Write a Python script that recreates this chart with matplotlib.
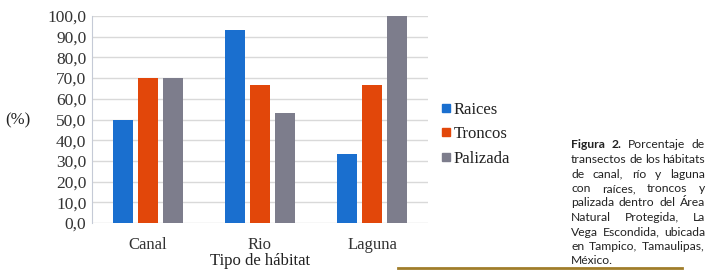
import numpy as np
import matplotlib
matplotlib.use("Agg")
from matplotlib import pyplot as plt
from matplotlib.lines import Line2D
from matplotlib.font_manager import FontProperties

# datos
habitats = ["Canal", "Rio", "Laguna"]
raices = [50.0, 93.3, 33.3]
troncos = [70.0, 66.7, 66.7]
palizada = [70.0, 53.3, 100.0]
series = ["Raices", "Troncos", "Palizada"]
yticks = np.arange(0, 101, 10)

colores = ["#1a6fcf", "#e2470a", "#7d7d8c"]
plt.rcParams["font.family"] = "serif"
plt.rcParams["font.serif"] = ["Liberation Serif", "DejaVu Serif"]
serif12 = FontProperties(family="Liberation Serif", size=12)

fig = plt.figure(figsize=(7.14, 2.78), dpi=100)
W, H = 714, 278
ax = fig.add_axes([92 / W, 1 - 223 / H, 336 / W, 207 / H])

x = np.arange(len(habitats))
ancho = 0.18
paso = 0.223
for k, vals in enumerate([raices, troncos, palizada]):
    ax.bar(x + (k - 1) * paso, vals, ancho, color=colores[k], label=series[k], zorder=3)

ax.set_xlim(-0.5, 2.5)
ax.set_ylim(0, 100)
ax.set_yticks(yticks)
ax.set_yticklabels([f"{v:.1f}".replace(".", ",") for v in yticks],
                   fontproperties=FontProperties(family="Liberation Serif", size=12.5))
ax.set_xticks(x)
ax.set_xticklabels(habitats, fontproperties=serif12)
ax.tick_params(axis="both", length=0, colors="#333333")
ax.tick_params(axis="y", pad=4)
ax.tick_params(axis="x", pad=10)
ax.grid(axis="y", color="#d9d9d9", linewidth=1, zorder=0)
for s in ["top", "right", "bottom"]:
    ax.spines[s].set_visible(False)
ax.spines["left"].set_color("#c5cad6")

fig.text(18 / W, 1 - 120 / H, "(%)", fontproperties=serif12,
         ha="center", va="center", color="#222222")
fig.text(260 / W, 1 - 261 / H, "Tipo de hábitat", fontproperties=serif12,
         ha="center", va="center", color="#222222")

# leyenda
handles = [Line2D([], [], linestyle="none", marker="s", markersize=6,
                  markerfacecolor=c, markeredgecolor=c) for c in colores]
leg = fig.legend(handles, series, loc="upper left", bbox_to_anchor=(436 / W, 1 - 97 / H),
                 frameon=False, prop=serif12, handlelength=0.6, handletextpad=0.15,
                 labelspacing=0.5, borderaxespad=0, borderpad=0.3)
for t in leg.get_texts():
    t.set_color("#222222")
    t.set_fontproperties(FontProperties(family="Liberation Serif", size=12))

# pie de figura, justificado
lineas = [
    [("Figura", "bold"), ("2.", "bold"), ("Porcentaje", "normal"), ("de", "normal")],
    "transectos de los hábitats",
    "de canal, río y laguna",
    "con raíces, troncos y",
    "palizada dentro del Área",
    "Natural Protegida, La",
    "Vega Escondida, ubicada",
    "en Tampico, Tamaulipas,",
    "México.",
]
x0, x1 = 571, 705
renderer = fig.canvas.get_renderer()
for i, linea in enumerate(lineas):
    yy = 145 + i * 14.5
    if isinstance(linea, str):
        palabras = [(p, "normal") for p in linea.split()]
    else:
        palabras = linea
    textos = []
    for p, peso in palabras:
        t = fig.text(x0 / W, 1 - yy / H, p,
                     fontproperties=FontProperties(family="Lato", size=8.7, weight=peso),
                     ha="left", va="center", color="#222222")
        textos.append(t)
    anchos = [t.get_window_extent(renderer).width for t in textos]
    if i == len(lineas) - 1:
        hueco = 3.0
    else:
        hueco = (x1 - x0 - sum(anchos)) / (len(textos) - 1)
    pos = x0
    for t, w in zip(textos, anchos):
        t.set_x(pos / W)
        pos += w + hueco

fig.add_artist(Line2D([398 / W, 682 / W], [1 - 268 / H, 1 - 268 / H],
                      transform=fig.transFigure, color="#a07d2a", linewidth=2))

fig.savefig("out.png", dpi=100)
